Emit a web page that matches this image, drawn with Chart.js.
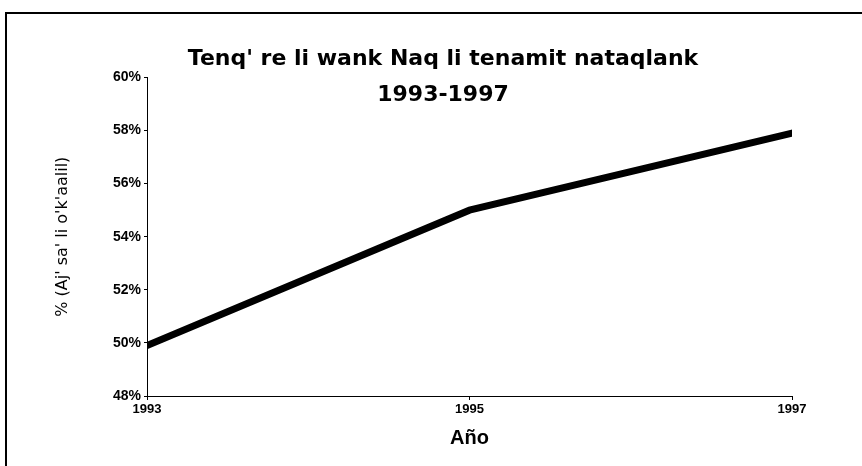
<html>
<head>
<script src="https://cdn.jsdelivr.net/npm/chart.js"></script>
<style>
  body { margin:0; background:#fff; }
  #wrap { position:relative; width:862px; height:466px; }
  #frame { position:absolute; left:5px; top:12px; right:0; bottom:0; border-top:2px solid #000; border-left:2px solid #000; pointer-events:none; }
</style>
<script>
// years on the x axis and the share
var years = [1993, 1995, 1997];
var share = [49.9, 55.0, 57.9];
var yTicks = [48, 50, 52, 54, 56, 58, 60];
var xTicks = [1993, 1995, 1997];
var titleLines = ["Tenq' re li wank Naq li tenamit nataqlank", "1993-1997"];
var yTitle = "% (Aj' sa' li o'k'aalil)";
var xTitle = "Año";
</script>
</head>
<body>
<div id="wrap">
  <canvas id="myChart" width="862" height="466"></canvas>
  <div id="frame"></div>
</div>

<script>
Chart.defaults.font.family = "'Liberation Sans', Arial, sans-serif";
Chart.defaults.color = '#000';

var pts = [];
for (var i = 0; i < years.length; i++) {
  pts.push({x: years[i], y: share[i]});
}

const config = {
  type: 'line',
  data: {
    datasets: [{
      data: pts,
      borderColor: '#000',
      backgroundColor: '#000',
      borderWidth: 7,
      pointRadius: 0,
      tension: 0,
      borderCapStyle: 'round'
    }]
  },
  options: {
    responsive: false,
    animation: false,
    // left padding 94 so the full width title centres near x=443
    layout: { padding: { left: 94, right: 70, top: 0, bottom: 0 } },
    plugins: {
      legend: { display: false },
      tooltip: { enabled: false },
      title: {
        display: true,
        fullSize: true,
        text: titleLines,
        font: { family: "'DejaVu Sans', sans-serif", size: 22, weight: 'bold', lineHeight: 1.6 },
        padding: { top: 42, bottom: -35 }
      }
    },
    scales: {
      x: {
        type: 'linear',
        min: 1993,
        max: 1997,
        afterBuildTicks: function(scale) {
          scale.ticks = xTicks.map(function(v) { return {value: v}; });
        },
        afterFit: function(scale) { scale.height = 70; },
        ticks: {
          callback: function(v) { return String(v); },
          font: { size: 13, weight: 'bold' },
          padding: 2,
          maxRotation: 0
        },
        grid: { display: true, drawOnChartArea: false, drawTicks: true, tickLength: 4, color: '#000', lineWidth: 1 },
        border: { display: true, color: '#000', width: 1 },
        title: { display: true, text: xTitle, font: { size: 20, weight: 'bold' }, padding: { top: 0, bottom: 15.5 } }
      },
      y: {
        type: 'linear',
        min: 48,
        max: 60,
        afterBuildTicks: function(scale) {
          scale.ticks = yTicks.map(function(v) { return {value: v}; });
        },
        afterFit: function(scale) { scale.width = 53; },
        ticks: {
          callback: function(v) { return v + '%'; },
          font: { size: 14, weight: 'bold' },
          padding: 3
        },
        grid: { display: true, drawOnChartArea: false, drawTicks: true, tickLength: 3, color: '#000', lineWidth: 1 },
        border: { display: true, color: '#000', width: 1 },
        title: { display: true, text: yTitle, font: { family: "'DejaVu Sans', sans-serif", size: 16 }, padding: { top: -40.6, bottom: 0 } }
      }
    }
  }
};

const myChart = new Chart(document.getElementById('myChart'), config);
</script>
</body>
</html>
